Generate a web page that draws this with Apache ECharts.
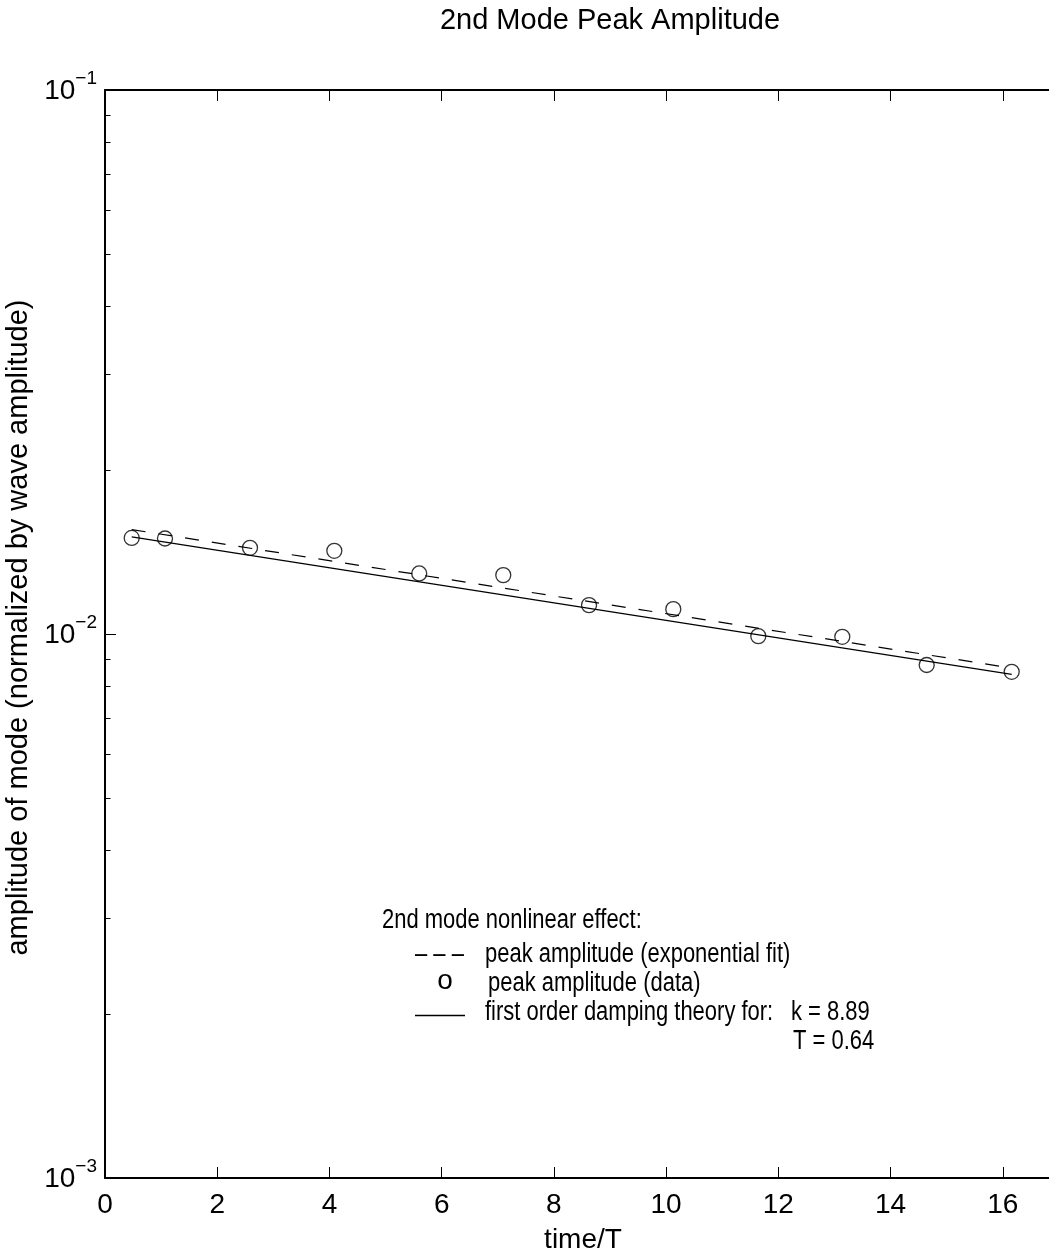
<!DOCTYPE html>
<html>
<head>
<meta charset="utf-8">
<script src="https://cdn.jsdelivr.net/npm/echarts@6/dist/echarts.min.js"></script>
<style>
  html, body { margin: 0; padding: 0; background: #ffffff; }
  #chart { width: 1049px; height: 1253px; }
</style>
</head>
<body>
<div id="chart"></div>
<script>
// Measured peak amplitudes of the 2nd mode (time in wave periods)
const timeData = [0.476, 1.069, 2.584, 4.087, 5.600, 7.098, 8.626, 10.128, 11.643, 13.140, 14.644, 16.159];
const peakData = [0.01502, 0.01498, 0.01440, 0.01422, 0.01292, 0.01283, 0.01130, 0.01111, 0.00991, 0.00988, 0.00877, 0.00852];

// Exponential fit to the peaks (end points of the straight line on the log axis)
const fitTime = [0.476, 16.159];
const fitAmp = [0.01556, 0.008657];

// First order damping theory (k = 8.89, T = 0.64)
const theoryTime = [0.476, 16.159];
const theoryAmp = [0.01509, 0.008426];

// Axis ticks
const xRange = [0, 18];
const xTicks = [0, 2, 4, 6, 8, 10, 12, 14, 16];
const yRange = [0.001, 0.1];
const yMajorTicks = [0.001, 0.01, 0.1];
const yMinorTicks = [0.002, 0.003, 0.004, 0.005, 0.006, 0.007, 0.008, 0.009,
                     0.02, 0.03, 0.04, 0.05, 0.06, 0.07, 0.08, 0.09];

// Annotation block
const legendHeading = '2nd mode nonlinear effect:';
const legendDashed = 'peak amplitude (exponential fit)';
const legendCircle = 'peak amplitude (data)';
const legendSolid = 'first order damping theory for:';
const paramK = 'k = 8.89';
const paramT = 'T = 0.64';

const titleText = '2nd Mode Peak Amplitude';
const xName = 'time/T';
const yName = 'amplitude of mode (normalized by wave amplitude)';

const FONT_FAMILY = "'Liberation Sans', Arial, Helvetica, sans-serif";
const INK = '#000000';
const NOTE_SIZE = 26.8;
const NOTE_SQUEEZE = 0.82;   // condensed look for the annotation block

const zip = (xs, ys) => xs.map((x, i) => [x, ys[i]]);

const gridRect = { left: 105, top: 90, width: 1010, height: 1088, outerBoundsMode: 'none', containLabel: false };

const chart = echarts.init(document.getElementById('chart'), null, { renderer: 'canvas' });

function textEl(text, x, y, size, align, squeeze) {
  return {
    type: 'text',
    x: x, y: y,
    scaleX: squeeze || 1,
    silent: true,
    style: {
      text: text,
      fontSize: size,
      fontFamily: FONT_FAMILY,
      fill: INK,
      align: align || 'left',
      textAlign: align || 'left',
      verticalAlign: 'middle',
      textVerticalAlign: 'middle'
    }
  };
}

const option = {
  animation: false,
  backgroundColor: '#ffffff',
  textStyle: { fontFamily: FONT_FAMILY, color: INK },
  grid: [
    Object.assign({}, gridRect),
    Object.assign({}, gridRect)
  ],
  xAxis: [
    {
      type: 'value', gridIndex: 0, position: 'bottom',
      min: xRange[0], max: xRange[1], interval: 2,
      name: xName, nameLocation: 'middle', nameGap: 48,
      nameTextStyle: { fontSize: 28, color: INK, fontFamily: FONT_FAMILY, padding: [0, 54, 0, 0] },
      axisLine: { show: true, lineStyle: { color: INK, width: 2 } },
      axisTick: { show: true, inside: true, length: 11, customValues: xTicks,
                  lineStyle: { color: INK, width: 1 } },
      axisLabel: { show: true, margin: 13, fontSize: 28, color: INK, fontFamily: FONT_FAMILY,
                   customValues: xTicks },
      splitLine: { show: false }
    },
    {
      type: 'value', gridIndex: 0, position: 'top',
      min: xRange[0], max: xRange[1], interval: 2,
      axisLine: { show: true, lineStyle: { color: INK, width: 2 } },
      axisTick: { show: true, inside: true, length: 11, customValues: xTicks,
                  lineStyle: { color: INK, width: 1 } },
      axisLabel: { show: false },
      splitLine: { show: false }
    },
    {
      type: 'value', gridIndex: 1, show: false,
      min: xRange[0], max: xRange[1], interval: 2
    }
  ],
  yAxis: [
    {
      type: 'log', logBase: 10, gridIndex: 0, position: 'left',
      min: yRange[0], max: yRange[1],
      name: yName, nameLocation: 'middle', nameGap: 65, nameRotate: 90,
      nameTextStyle: { fontSize: 29, color: INK, fontFamily: FONT_FAMILY, padding: [0, 0, 0, 13] },
      axisLine: { show: true, lineStyle: { color: INK, width: 2 } },
      axisTick: { show: true, inside: true, length: 11, customValues: yMajorTicks,
                  lineStyle: { color: INK, width: 1 } },
      axisLabel: {
        show: true, margin: 8, customValues: yMajorTicks,
        padding: [3, 0, 0, 0],
        formatter: function (v) {
          const e = Math.round(Math.log10(v));
          return '{b|10}{s|' + (e < 0 ? '\u2212' : '') + Math.abs(e) + '}';
        },
        rich: {
          b: { fontSize: 28, lineHeight: 28, fontFamily: FONT_FAMILY, color: INK,
               verticalAlign: 'bottom' },
          s: { fontSize: 19, lineHeight: 19, fontFamily: FONT_FAMILY, color: INK,
               padding: [0, 0, 17.5, 0], verticalAlign: 'bottom' }
        }
      },
      splitLine: { show: false }
    },
    {
      // minor decade ticks on the left edge
      type: 'log', logBase: 10, gridIndex: 1, position: 'left',
      min: yRange[0], max: yRange[1],
      axisLine: { show: false },
      axisTick: { show: true, inside: true, length: 5.5, customValues: yMinorTicks,
                  lineStyle: { color: INK, width: 1 } },
      axisLabel: { show: false },
      splitLine: { show: false }
    }
  ],
  series: [
    {
      name: legendDashed, type: 'line', xAxisIndex: 0, yAxisIndex: 0,
      data: zip(fitTime, fitAmp), symbol: 'none', silent: true,
      lineStyle: { color: INK, width: 1.2, type: [14, 13] }, z: 2
    },
    {
      name: legendSolid, type: 'line', xAxisIndex: 0, yAxisIndex: 0,
      data: zip(theoryTime, theoryAmp), symbol: 'none', silent: true,
      lineStyle: { color: INK, width: 1.2, type: 'solid' }, z: 2
    },
    {
      name: legendCircle, type: 'scatter', xAxisIndex: 0, yAxisIndex: 0,
      data: zip(timeData, peakData), symbol: 'circle', symbolSize: 15, silent: true,
      itemStyle: { color: 'rgba(0,0,0,0)', borderColor: INK, borderWidth: 1.3 }, z: 3
    }
  ],
  graphic: [
    textEl(titleText, 610, 21, 29, 'center'),
    textEl(legendHeading, 382, 921, NOTE_SIZE, 'left', NOTE_SQUEEZE),
    textEl('\u2013 \u2013 \u2013', 415, 955, NOTE_SIZE, 'left', NOTE_SQUEEZE),
    textEl(legendDashed, 485, 955, NOTE_SIZE, 'left', NOTE_SQUEEZE),
    textEl('o', 445, 981.5, 28, 'center'),
    textEl(legendCircle, 488, 984, NOTE_SIZE, 'left', NOTE_SQUEEZE),
    {
      type: 'line', silent: true,
      shape: { x1: 415, y1: 1015.5, x2: 465, y2: 1015.5 },
      style: { stroke: INK, lineWidth: 1.3 }
    },
    textEl(legendSolid, 485, 1013, NOTE_SIZE, 'left', NOTE_SQUEEZE),
    textEl(paramK, 791, 1013, NOTE_SIZE, 'left', NOTE_SQUEEZE),
    textEl(paramT, 793, 1042, NOTE_SIZE, 'left', NOTE_SQUEEZE)
  ]
};

chart.setOption(option);
</script>
</body>
</html>
